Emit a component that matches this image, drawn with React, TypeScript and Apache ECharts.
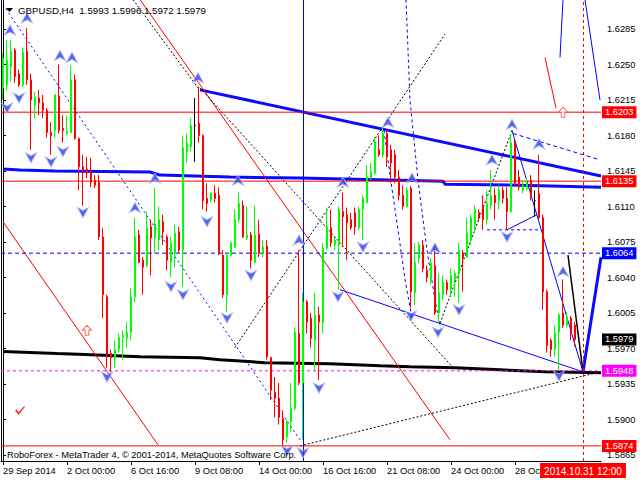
import React, { useEffect, useRef } from "react";
import * as echarts from "echarts";

// ---- candle data (H4 bars, index 0 = 29 Sep 2014) ----
const opens = [
  1.6227, 1.6230, 1.6248, 1.6264, 1.6241, 1.6230, 1.6263, 1.6235, 1.6210, 1.6217,
  1.6212, 1.6205, 1.6183, 1.6185, 1.6219, 1.6187, 1.6182, 1.6183, 1.6235, 1.6177,
  1.6149, 1.6147, 1.6143, 1.6136, 1.6134, 1.6080, 1.6021, 1.5965, 1.5961, 1.5969,
  1.5981, 1.5980, 1.5986, 1.6021, 1.6082, 1.6057, 1.6052, 1.6090, 1.6079, 1.6077,
  1.6095, 1.6080, 1.6055, 1.6064, 1.6085, 1.6067, 1.6164, 1.6169, 1.6190, 1.6192,
  1.6180, 1.6118, 1.6116, 1.6123, 1.6121, 1.6062, 1.6023, 1.6062, 1.6070, 1.6097,
  1.6111, 1.6079, 1.6082, 1.6055, 1.6083, 1.6064, 1.6071, 1.5961, 1.5927, 1.5921,
  1.5901, 1.5883, 1.5898, 1.5911, 1.5985, 1.5936, 1.6016, 1.6000, 1.5978, 1.6003,
  1.5996, 1.6069, 1.6089, 1.6072, 1.6072, 1.6105, 1.6102, 1.6097, 1.6104, 1.6089,
  1.6107, 1.6114, 1.6138, 1.6143, 1.6166, 1.6161, 1.6182, 1.6166, 1.6161, 1.6139,
  1.6121, 1.6110, 1.6128, 1.6025, 1.6059, 1.6072, 1.6047, 1.6038, 1.6052, 1.6005,
  1.6023, 1.6035, 1.6028, 1.6038, 1.6044, 1.6064, 1.6060, 1.6077, 1.6092, 1.6104,
  1.6111, 1.6097, 1.6111, 1.6121, 1.6116, 1.6126, 1.6118, 1.6105, 1.6173, 1.6139,
  1.6126, 1.6128, 1.6136, 1.6116, 1.6123, 1.6099, 1.6026, 1.5978, 1.5969, 1.5986,
  1.6005, 1.5993, 1.6000, 1.5993,
];
const closes = [
  1.6256, 1.6254, 1.6263, 1.6238, 1.6230, 1.6262, 1.6235, 1.6215, 1.6218, 1.6212,
  1.6205, 1.6183, 1.6180, 1.6220, 1.6185, 1.6185, 1.6184, 1.6235, 1.6177, 1.6149,
  1.6146, 1.6143, 1.6134, 1.6131, 1.6080, 1.6023, 1.5964, 1.5961, 1.5969, 1.5981,
  1.5983, 1.5986, 1.6021, 1.6080, 1.6055, 1.6050, 1.6089, 1.6079, 1.6093, 1.6097,
  1.6085, 1.6057, 1.6074, 1.6084, 1.6067, 1.6168, 1.6173, 1.6190, 1.6190, 1.6180,
  1.6116, 1.6113, 1.6123, 1.6118, 1.6064, 1.6023, 1.6062, 1.6074, 1.6097, 1.6113,
  1.6080, 1.6082, 1.6057, 1.6082, 1.6064, 1.6070, 1.5962, 1.5929, 1.5921, 1.5902,
  1.5880, 1.5898, 1.5911, 1.5986, 1.5936, 1.6016, 1.5996, 1.5980, 1.6003, 1.5996,
  1.6069, 1.6090, 1.6074, 1.6077, 1.6107, 1.6100, 1.6094, 1.6089, 1.6090, 1.6107,
  1.6118, 1.6139, 1.6144, 1.6174, 1.6161, 1.6182, 1.6159, 1.6153, 1.6139, 1.6121,
  1.6110, 1.6126, 1.6026, 1.6055, 1.6072, 1.6049, 1.6040, 1.6054, 1.6005, 1.6025,
  1.6035, 1.6028, 1.6042, 1.6044, 1.6067, 1.6059, 1.6084, 1.6099, 1.6107, 1.6100,
  1.6097, 1.6113, 1.6121, 1.6114, 1.6126, 1.6118, 1.6105, 1.6173, 1.6133, 1.6129,
  1.6131, 1.6133, 1.6121, 1.6116, 1.6099, 1.6026, 1.5973, 1.5969, 1.5986, 1.6003,
  1.5993, 1.6000, 1.5985, 1.5979,
];
const lows = [
  1.6215, 1.6225, 1.6233, 1.6232, 1.6228, 1.6228, 1.6230, 1.6166, 1.6197, 1.6200,
  1.6197, 1.6178, 1.6161, 1.6178, 1.6182, 1.6173, 1.6180, 1.6182, 1.6176, 1.6126,
  1.6111, 1.6138, 1.6129, 1.6128, 1.6077, 1.6000, 1.5951, 1.5947, 1.5951, 1.5966,
  1.5959, 1.5970, 1.5978, 1.6016, 1.6054, 1.6023, 1.6050, 1.6042, 1.6064, 1.6067,
  1.6072, 1.6047, 1.6040, 1.6050, 1.6064, 1.6031, 1.6153, 1.6164, 1.6154, 1.6173,
  1.6107, 1.6105, 1.6114, 1.6114, 1.6062, 1.6020, 1.6006, 1.6060, 1.6069, 1.6094,
  1.6079, 1.6077, 1.6049, 1.6054, 1.6060, 1.6060, 1.5959, 1.5919, 1.5902, 1.5895,
  1.5874, 1.5877, 1.5887, 1.5909, 1.5934, 1.5880, 1.5985, 1.5971, 1.5949, 1.5939,
  1.5985, 1.6067, 1.6070, 1.6067, 1.6028, 1.6070, 1.6057, 1.6087, 1.6082, 1.6087,
  1.6077, 1.6113, 1.6136, 1.6141, 1.6159, 1.6158, 1.6149, 1.6133, 1.6133, 1.6116,
  1.6107, 1.6109, 1.6010, 1.6013, 1.6054, 1.6045, 1.6035, 1.6033, 1.6003, 1.5995,
  1.6018, 1.6023, 1.6021, 1.6021, 1.6015, 1.6026, 1.6059, 1.6072, 1.6085, 1.6095,
  1.6087, 1.6092, 1.6107, 1.6097, 1.6107, 1.6113, 1.6087, 1.6104, 1.6131, 1.6126,
  1.6123, 1.6126, 1.6116, 1.6100, 1.6097, 1.6008, 1.5966, 1.5962, 1.5962, 1.5949,
  1.5990, 1.5991, 1.5978, 1.5972,
];
const highs = [
  1.6261, 1.6274, 1.6274, 1.6266, 1.6245, 1.6267, 1.6286, 1.6241, 1.6223, 1.6225,
  1.6220, 1.6207, 1.6193, 1.6221, 1.6250, 1.6200, 1.6200, 1.6249, 1.6240, 1.6178,
  1.6161, 1.6159, 1.6158, 1.6141, 1.6141, 1.6089, 1.6023, 1.5969, 1.5978, 1.5985,
  1.5988, 1.5996, 1.6030, 1.6099, 1.6087, 1.6060, 1.6105, 1.6097, 1.6128, 1.6110,
  1.6102, 1.6082, 1.6080, 1.6092, 1.6090, 1.6180, 1.6182, 1.6197, 1.6217, 1.6228,
  1.6181, 1.6133, 1.6124, 1.6131, 1.6129, 1.6067, 1.6064, 1.6075, 1.6107, 1.6124,
  1.6116, 1.6110, 1.6085, 1.6111, 1.6097, 1.6077, 1.6077, 1.5962, 1.5942, 1.5936,
  1.5909, 1.5900, 1.5936, 1.5991, 1.6067, 1.6025, 1.6018, 1.6005, 1.6025, 1.6011,
  1.6074, 1.6109, 1.6107, 1.6080, 1.6110, 1.6124, 1.6109, 1.6104, 1.6109, 1.6110,
  1.6121, 1.6151, 1.6153, 1.6178, 1.6180, 1.6188, 1.6185, 1.6171, 1.6166, 1.6146,
  1.6131, 1.6129, 1.6130, 1.6074, 1.6075, 1.6077, 1.6052, 1.6059, 1.6072, 1.6044,
  1.6042, 1.6038, 1.6049, 1.6047, 1.6074, 1.6067, 1.6099, 1.6102, 1.6111, 1.6107,
  1.6121, 1.6126, 1.6146, 1.6128, 1.6131, 1.6129, 1.6129, 1.6182, 1.6176, 1.6146,
  1.6136, 1.6138, 1.6141, 1.6126, 1.6161, 1.6102, 1.6028, 1.5980, 1.5993, 1.6005,
  1.6038, 1.6006, 1.6002, 1.5996,
];
const dojiBars = [48, 133];

// ---- axes ----
const SLOTS = 150;
const tickIdx = [0, 16, 32, 48, 64, 80, 96, 112, 128];
const tickLabels = [
  "29 Sep 2014", "2 Oct 00:00", "6 Oct 16:00", "9 Oct 08:00", "14 Oct 00:00",
  "16 Oct 16:00", "21 Oct 08:00", "24 Oct 00:00", "28 Oct 16:00",
];
const priceTicks = [
  1.5865, 1.59, 1.5935, 1.597, 1.6005, 1.604, 1.6075, 1.611, 1.6145, 1.618,
  1.6215, 1.625, 1.6285,
];
const Y_MIN = 1.58591;
const Y_MAX = 1.63136;
const cursorBar = 145;
const cursorLabel = "2014.10.31 12:00";
const vLineBar = 75;

// ---- horizontal levels ----
const levelRed = [1.6203, 1.6135, 1.5874];
const levelBlue = 1.6064;
const levelMagenta = 1.5948;
const lastPrice = 1.5979;

// ---- drawn objects: [bar index, price] ----
const maBlue = [[0, 1.6147], [4.25, 1.6146], [13, 1.6145], [36.75, 1.6144], [39.25, 1.6141], [56.75, 1.6139], [74.25, 1.6138], [99.25, 1.6136], [110, 1.6135], [110.5, 1.6132], [129.25, 1.6131], [149.5, 1.6129]];
const maBlack = [[0, 1.5967], [6.75, 1.5966], [13.5, 1.5965], [20.5, 1.5964], [34.25, 1.5962], [49.25, 1.5961], [54.25, 1.5959], [65.5, 1.5956], [81.75, 1.5955], [94.25, 1.5953], [101.75, 1.5952], [113, 1.5951], [124.25, 1.5949], [135.5, 1.5947], [149.5, 1.5946]];
const trendBlueThick = [[49.25, 1.6225], [149.5, 1.614]];
const trendRedA = [[34.25, 1.6314], [111.75, 1.588]];
const trendRedB = [[0, 1.6095], [38.75, 1.5875]];
const dotBlue = [[0, 1.6309], [74.25, 1.588]];
const dotBlackA = [[32.5, 1.6314], [48.75, 1.6227]];
const dotBlackB = [[49.25, 1.6227], [113, 1.5949]];
const dotBlackC = [[58, 1.5971], [110.5, 1.628]];
const dotBlackD = [[74.25, 1.5874], [149.25, 1.5947]];
const dotBlackE = [[109.25, 1.5995], [127.25, 1.6185]];
const blueToLow1 = [[127.25, 1.6185], [145, 1.5947]];
const blueToLow2 = [[84.25, 1.6028], [145, 1.5947]];
const blueSmall = [[126, 1.6087], [133.5, 1.6102]];
const blueDashShort = [[121, 1.6087], [134.25, 1.6087]];
const blueDashUpper = [[127.5, 1.6182], [149.25, 1.6156]];
const blackProj = [[141.25, 1.6062], [145, 1.5947]];
const blueForecast = [[145, 1.5947], [149.5, 1.606]];
const blueTopRight = [[145.5, 1.6314], [149.25, 1.6215]];
const blueTopMid = [[139.25, 1.6257], [140, 1.6314]];
const redTopMid = [[135.5, 1.6257], [138.25, 1.6207]];
const arc1 = [[95.25, 1.6185], [96.75, 1.6141], [98.75, 1.6087], [100.5, 1.6038], [102.25, 1.6]];
const arc2 = [[100.75, 1.6314], [101.75, 1.6215], [103.75, 1.6136], [106, 1.6067], [108, 1.6018], [109.25, 1.5993]];

// ---- fractal arrows ----
const upArrows = [[1.75, 1.6284], [6, 1.6296], [14.25, 1.6259], [17.25, 1.6257], [33, 1.6109], [38, 1.6138], [48.75, 1.6237], [58.75, 1.6136], [74, 1.6077], [85, 1.6134], [96.25, 1.6193], [102.25, 1.6138], [108, 1.6069], [122.25, 1.6156], [127.25, 1.6191], [134, 1.6172], [140, 1.6046]];
const downArrows = [[1, 1.6207], [4, 1.6217], [7, 1.6158], [12, 1.6154], [15, 1.6164], [20, 1.6104], [26, 1.5942], [42, 1.6031], [45, 1.6023], [51, 1.6095], [56, 1.6], [62, 1.6042], [71, 1.5869], [75, 1.5867], [79, 1.5931], [83.75, 1.6021], [90, 1.607], [102, 1.6002], [108.75, 1.5986], [114, 1.6008], [126, 1.608], [139, 1.5943]];
const hollowArrows = [[21, 1.5988], [140, 1.6203]];
const checkMarks = [[4.25, 1.5909]];

const FONT = "'Liberation Sans', Arial, sans-serif";
const FS = 9.3;

export default function App() {
  const ref = useRef<HTMLDivElement>(null);
  useEffect(() => {
    const el = ref.current!;
    const chart = echarts.init(el, null, { renderer: "svg" });
    const categories = Array.from({ length: SLOTS }, (_, i) => String(i));
    const candleData = opens.map((o, i) => {
      const v = [o, closes[i], lows[i], highs[i]];
      return dojiBars.includes(i)
        ? { value: v, itemStyle: { color: "#000", color0: "#000", borderColor: "#000", borderColor0: "#000" } }
        : v;
    });

    const line = (data: number[][], color: string, width: number, type: any = "solid", z = 2) => ({
      type: "line",
      xAxisIndex: 1,
      yAxisIndex: 0,
      data,
      showSymbol: false,
      symbol: "none",
      silent: true,
      z,
      lineStyle: { color, width, type },
    });

    const level = (v: number, color: string, type: any, bg: string) => ({
      type: "line",
      xAxisIndex: 1,
      yAxisIndex: 0,
      data: [[-0.5, v], [SLOTS - 0.5, v]],
      showSymbol: false,
      symbol: "none",
      silent: true,
      z: 3,
      lineStyle: { color, width: 1, type },
      endLabel: {
        show: true,
        formatter: () => v.toFixed(4),
        distance: 1,
        backgroundColor: bg,
        color: "#fff",
        padding: [2, 3, 1, 3],
        fontSize: FS,
        fontFamily: FONT,
      },
    });

    const option: any = {
      animation: false,
      backgroundColor: "#fff",
      grid: { left: 1, right: 39, top: 0, bottom: 19, containLabel: false },
      xAxis: [
        {
          type: "category",
          data: categories,
          boundaryGap: true,
          axisLine: { show: true, lineStyle: { color: "#000", width: 1 } },
          axisTick: {
            show: true,
            alignWithLabel: true,
            interval: (i: number) => tickIdx.includes(i),
            length: 4,
            lineStyle: { color: "#000" },
          },
          axisLabel: {
            interval: (i: number) => tickIdx.includes(i),
            formatter: (_v: string, i: number) => tickLabels[tickIdx.indexOf(i)] ?? "",
            align: "left",
            color: "#000",
            fontSize: FS,
            fontFamily: FONT,
            margin: 5,
          },
          splitLine: { show: false },
        },
        { type: "value", min: -0.5, max: SLOTS - 0.5, show: false },
      ],
      yAxis: [
        {
          type: "value",
          position: "right",
          min: Y_MIN,
          max: Y_MAX,
          splitLine: { show: false },
          axisLine: { show: true, lineStyle: { color: "#000" } },
          axisTick: { show: true, length: 3, customValues: priceTicks, lineStyle: { color: "#000" } },
          axisLabel: {
            customValues: priceTicks,
            formatter: (v: number) => v.toFixed(4),
            color: "#000",
            fontSize: FS,
            fontFamily: FONT,
            margin: 6,
          },
        },
        {
          type: "value",
          position: "left",
          min: Y_MIN,
          max: Y_MAX,
          splitLine: { show: false },
          axisLine: { show: true, lineStyle: { color: "#000" } },
          axisTick: { show: false },
          axisLabel: { show: false },
        },
      ],
      series: [
        line(maBlack, "#000", 3),
        line(maBlue, "#0a0aff", 3),
        line(trendBlueThick, "#0a0aff", 3),
        line(trendRedA, "#ff0000", 1),
        line(trendRedB, "#ff0000", 1),
        line(dotBlue, "#0000ff", 1, [2, 3]),
        line(dotBlackA, "#000", 1, [2, 2]),
        line(dotBlackB, "#000", 1, [2, 2]),
        line(dotBlackC, "#000", 1, [2, 2]),
        line(dotBlackD, "#000", 1, [2, 2]),
        line(dotBlackE, "#000", 1, [2, 2]),
        line(blueToLow1, "#0000ff", 1),
        line(blueToLow2, "#0000ff", 1),
        line(blueSmall, "#0000ff", 1),
        line(blueDashShort, "#0000ff", 1, [3, 3]),
        line(blueDashUpper, "#0000ff", 1, [4, 3]),
        line(blackProj, "#000", 1.5),
        line(blueForecast, "#0a0aff", 3),
        line(blueTopRight, "#0000ff", 1),
        line(blueTopMid, "#0000ff", 1),
        line(redTopMid, "#ff0000", 1),
        line(arc1, "#0000ff", 1, [3, 3]),
        line(arc2, "#0000ff", 1, [3, 3]),
        ...levelRed.map((v) => level(v, "#ff0000", "solid", "#ff0000")),
        level(levelBlue, "#0000ff", [4, 3], "#0000ff"),
        level(levelMagenta, "#ff00ff", [3, 3], "#ff00ff"),
        level(lastPrice, "rgba(0,0,0,0)", "solid", "#000"),
        {
          type: "line",
          xAxisIndex: 1,
          yAxisIndex: 0,
          data: [],
          silent: true,
          z: 3,
          markLine: {
            silent: true,
            symbol: ["none", "none"],
            animation: false,
            data: [
              {
                xAxis: vLineBar,
                lineStyle: { color: "#0000ff", width: 1, type: "solid" },
                label: { show: false },
              },
              {
                xAxis: cursorBar,
                lineStyle: { color: "#ff0000", width: 1, type: [3, 3] },
                label: {
                  show: true,
                  position: "start",
                  formatter: cursorLabel,
                  distance: 2,
                  backgroundColor: "#ff0000",
                  color: "#fff",
                  padding: [3, 4, 2, 4],
                  fontSize: FS + 0.7,
                  fontFamily: FONT,
                },
              },
            ],
          },
        },
        {
          type: "candlestick",
          xAxisIndex: 0,
          yAxisIndex: 0,
          data: candleData,
          barWidth: 2,
          silent: true,
          z: 5,
          itemStyle: {
            color: "#00ff00",
            color0: "#ff0000",
            borderColor: "#00ff00",
            borderColor0: "#ff0000",
            borderWidth: 1,
          },
        },
        {
          type: "scatter",
          xAxisIndex: 1,
          yAxisIndex: 0,
          data: upArrows,
          symbol: "path://M5,0 L10,10 L5,7 L0,10 Z",
          symbolSize: [11, 10],
          silent: true,
          z: 6,
          itemStyle: { color: "#2b3be6", borderColor: "#a9b0ff", borderWidth: 1 },
        },
        {
          type: "scatter",
          xAxisIndex: 1,
          yAxisIndex: 0,
          data: downArrows,
          symbol: "path://M0,0 L5,3 L10,0 L5,10 Z",
          symbolSize: [11, 10],
          silent: true,
          z: 6,
          itemStyle: { color: "#2b3be6", borderColor: "#a9b0ff", borderWidth: 1 },
        },
        {
          type: "scatter",
          xAxisIndex: 1,
          yAxisIndex: 0,
          data: hollowArrows,
          symbol: "path://M5,0 L10,5 L7,5 L7,10 L3,10 L3,5 L0,5 Z",
          symbolSize: [9, 10],
          silent: true,
          z: 6,
          itemStyle: { color: "#fff", borderColor: "#ff4040", borderWidth: 1 },
        },
        {
          type: "scatter",
          xAxisIndex: 1,
          yAxisIndex: 0,
          data: checkMarks,
          symbol: "path://M0,5 L2,4 L4,7 L10,0 L11,1 L4,10 Z",
          symbolSize: [10, 9],
          silent: true,
          z: 6,
          itemStyle: { color: "#ff0000" },
        },
      ],
      graphic: [
        { type: "polygon", shape: { points: [[6, 8], [13, 8], [9.5, 12]] }, style: { fill: "#000" }, z: 100 },
        {
          type: "text",
          x: 18,
          y: 5,
          z: 100,
          style: { text: "GBPUSD,H4  1.5993 1.5996 1.5972 1.5979", fill: "#000", fontSize: FS + 0.4, fontFamily: FONT },
        },
        {
          type: "text",
          x: 7,
          y: 450,
          z: 100,
          style: {
            text: "RoboForex - MetaTrader 4, © 2001-2014, MetaQuotes Software Corp.",
            fill: "#000",
            fontSize: FS,
            fontFamily: FONT,
          },
        },
      ],
    };
    chart.setOption(option);
    return () => chart.dispose();
  }, []);
  return <div ref={ref} style={{ position: "fixed", left: 0, top: 0, width: 640, height: 480 }} />;
}
